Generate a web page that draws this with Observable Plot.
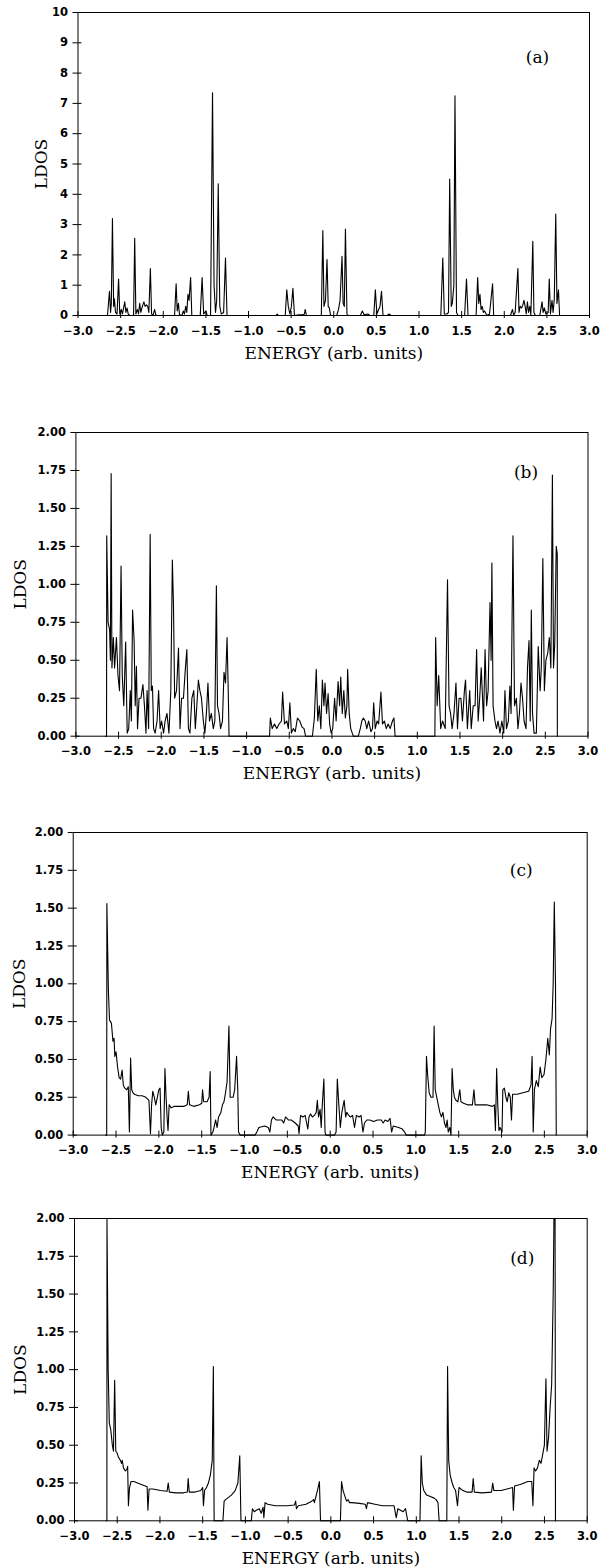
<!DOCTYPE html>
<html>
<head>
<meta charset="utf-8">
<script src="https://cdn.jsdelivr.net/npm/d3@7"></script>
<script src="https://cdn.jsdelivr.net/npm/@observablehq/plot@0.6"></script>
<style>
  body { margin: 0; background: #fff; }
  #wrap { position: relative; width: 600px; height: 1568px; overflow: hidden; }
  .panel { position: absolute; left: 0; }
  g[aria-label="x-axis tick label"] text, g[aria-label="y-axis tick label"] text {
    font-family: "DejaVu Sans", sans-serif; font-weight: bold; font-size: 11.5px;
  }
  g[aria-label="x-axis label"] text, g[aria-label="y-axis label"] text {
    font-family: "DejaVu Serif", serif; font-size: 17px;
  }
</style>
</head>
<body>
<div id="wrap"></div>
<script>
// ---------- data ----------
const xTicks = [-3, -2.5, -2, -1.5, -1, -0.5, 0, 0.5, 1, 1.5, 2, 2.5, 3];
const yTicksA = [0, 1, 2, 3, 4, 5, 6, 7, 8, 9, 10];
const yTicksBCD = [0, 0.25, 0.5, 0.75, 1, 1.25, 1.5, 1.75, 2];
const panelLabels = ["(a)", "(b)", "(c)", "(d)"];
const xLabel = "ENERGY (arb. units)";
const yLabel = "LDOS";

// [energy, LDOS]
const spectrumA = [
[-2.654,0],[-2.631,0.8],[-2.618,0.1],[-2.609,0.4],[-2.596,3.2],[-2.582,0.3],[-2.573,0.55],[-2.560,0.1],[-2.542,0.05],[-2.524,1.2],[-2.510,0.05],[-2.492,0.2],[-2.479,0.05],[-2.465,0.25],[-2.452,0.45],[-2.438,0.1],[-2.425,0.25],[-2.411,0.05],[-2.393,0],
[-2.348,0],[-2.335,2.55],[-2.321,0.05],[-2.303,0.2],[-2.290,0.05],[-2.276,0.4],[-2.263,0.1],[-2.245,0.3],[-2.227,0.45],[-2.213,0.3],[-2.196,0.35],[-2.182,0.3],[-2.169,0.1],[-2.151,1.55],[-2.137,0.05],[-2.119,0.02],[-2.101,0.2],[-2.088,0.02],[-2.070,0],
[-1.867,0],[-1.849,1.05],[-1.836,0.15],[-1.822,0.4],[-1.809,0.02],[-1.782,0],[-1.764,0.15],[-1.751,0.05],[-1.737,0.3],[-1.724,0.1],[-1.710,0.7],[-1.697,0.5],[-1.679,1.25],[-1.665,0],
[-1.566,0],[-1.544,1.25],[-1.526,0.05],[-1.499,0.15],[-1.485,0],[-1.445,0],[-1.422,7.35],[-1.404,1.0],[-1.387,0.1],[-1.373,0.5],[-1.355,4.35],[-1.337,0.3],[-1.319,0.05],[-1.292,0.1],[-1.270,1.9],[-1.252,0],
[-0.676,0],[-0.663,0.05],[-0.649,0],[-0.569,0],[-0.551,0.85],[-0.533,0.3],[-0.515,0.05],[-0.497,0.3],[-0.479,0.9],[-0.461,0],[-0.407,0.02],[-0.362,0.02],[-0.344,0.05],[-0.335,0.2],[-0.321,0],
[-0.146,0],[-0.128,2.8],[-0.115,0.3],[-0.097,0.5],[-0.079,1.85],[-0.065,0.3],[-0.052,0.25],[-0.038,0.02],[-0.020,0],
[0.034,0],[0.056,0.2],[0.074,0.5],[0.097,1.95],[0.110,0.4],[0.124,0.3],[0.137,2.85],[0.155,0.05],[0.169,0],
[0.312,0],[0.335,0.15],[0.357,0.02],[0.402,0.05],[0.425,0],[0.470,0],[0.488,0.85],[0.506,0.05],[0.519,0.15],[0.542,0.3],[0.560,0.8],[0.578,0],[0.627,0],[0.649,0.05],[0.672,0],
[1.256,0],[1.279,1.9],[1.297,0.05],[1.328,0.05],[1.346,0.1],[1.360,4.5],[1.378,0.3],[1.391,0.4],[1.409,1.0],[1.422,7.25],[1.440,0.1],[1.458,0],
[1.535,0],[1.557,1.2],[1.575,0],[1.670,0],[1.688,1.25],[1.701,0.4],[1.715,0.7],[1.728,0.2],[1.742,0.3],[1.755,0.1],[1.769,0.15],[1.787,0.05],[1.804,0],[1.827,0.05],[1.840,0.4],[1.863,1.05],[1.876,0],
[2.073,0],[2.096,0.2],[2.110,0.02],[2.128,0.1],[2.160,1.55],[2.173,0.1],[2.187,0.3],[2.204,0.25],[2.218,0.35],[2.231,0.5],[2.245,0.3],[2.258,0.05],[2.272,0.45],[2.285,0.1],[2.299,0.3],[2.312,0.02],[2.335,2.45],[2.348,0.1],[2.366,0],
[2.416,0],[2.429,0.2],[2.443,0.45],[2.456,0.1],[2.470,0.25],[2.488,0.05],[2.515,0.1],[2.528,1.2],[2.542,0.05],[2.560,0.5],[2.573,0.1],[2.587,0.55],[2.604,3.35],[2.618,0.4],[2.636,0.85],[2.649,0]
];

const spectrumB = [
[-2.655,0],[-2.641,0],[-2.639,1.32],[-2.623,0.75],[-2.605,0.7],[-2.596,0.5],[-2.587,1.73],[-2.578,0.45],[-2.561,0.65],[-2.547,0.45],[-2.525,0.65],[-2.507,0.4],[-2.489,0.3],[-2.471,1.12],[-2.457,0.4],[-2.439,0.2],[-2.417,0.62],[-2.399,0.02],[-2.381,0.05],[-2.363,0.3],[-2.350,0.1],[-2.336,0.83],[-2.318,0.63],[-2.305,0.2],[-2.291,0.46],[-2.278,0.05],[-2.260,0.25],[-2.238,0.25],[-2.215,0.34],[-2.197,0.2],[-2.179,0.02],[-2.166,0.3],[-2.148,0.05],[-2.130,1.33],[-2.117,0.3],[-2.103,0.33],[-2.090,0.05],[-2.072,0.02],[-2.049,0.1],[-2.031,0.3],[-2.013,0.05],[-1.996,0.1],[-1.973,0.02],[-1.955,0.1],[-1.933,0.15],[-1.910,0.02],[-1.888,0.3],[-1.870,1.16],[-1.857,0.87],[-1.843,0.25],[-1.821,0.3],[-1.798,0.58],[-1.780,0.05],[-1.762,0.25],[-1.740,0.25],[-1.717,0.45],[-1.700,0.57],[-1.682,0.05],[-1.664,0.02],[-1.641,0.25],[-1.619,0.3],[-1.601,0.05],[-1.583,0.2],[-1.565,0.37],[-1.547,0.3],[-1.529,0.25],[-1.507,0.1],[-1.489,0.02],[-1.471,0.15],[-1.453,0.35],[-1.435,0.1],[-1.413,0.15],[-1.390,0.05],[-1.372,0.1],[-1.354,0.99],[-1.341,0.2],[-1.323,0.15],[-1.305,0.05],[-1.283,0.1],[-1.265,0.42],[-1.247,0.35],[-1.229,0.65],[-1.215,0.3],[-1.206,0],
[-0.731,0],[-0.722,0.12],[-0.700,0.05],[-0.673,0.08],[-0.646,0.05],[-0.619,0.08],[-0.592,0.1],[-0.578,0.29],[-0.556,0.08],[-0.529,0.1],[-0.511,0.05],[-0.493,0.22],[-0.475,0.02],[-0.453,0.05],[-0.430,0.03],[-0.404,0.12],[-0.377,0.1],[-0.350,0.06],[-0.327,0.05],[-0.309,0],
[-0.229,0],[-0.206,0.12],[-0.184,0.44],[-0.166,0.1],[-0.148,0.2],[-0.130,0.05],[-0.112,0.37],[-0.094,0.2],[-0.081,0.35],[-0.063,0.15],[-0.045,0.28],[-0.027,0.08],[-0.009,0.02],[0.009,0.05],[0.031,0.25],[0.049,0.1],[0.072,0.36],[0.090,0.2],[0.103,0.39],[0.121,0.15],[0.139,0.3],[0.157,0.12],[0.175,0.2],[0.184,0.44],[0.202,0.15],[0.220,0.05],[0.238,0.02],[0.251,0],
[0.309,0],[0.332,0.05],[0.350,0.1],[0.368,0.12],[0.390,0.1],[0.408,0.05],[0.430,0.1],[0.457,0.03],[0.475,0.05],[0.489,0.22],[0.507,0.05],[0.529,0.1],[0.547,0.08],[0.574,0.29],[0.592,0.08],[0.614,0.1],[0.637,0.05],[0.659,0.08],[0.682,0.05],[0.709,0.1],[0.726,0.12],[0.740,0],
[1.206,0],[1.215,0.65],[1.233,0.2],[1.251,0.4],[1.274,0.05],[1.296,0.1],[1.327,0.05],[1.354,1.03],[1.372,0.2],[1.390,0.15],[1.408,0.05],[1.430,0.15],[1.453,0.35],[1.471,0.05],[1.489,0.25],[1.511,0.25],[1.529,0.1],[1.552,0.3],[1.565,0.37],[1.587,0.05],[1.614,0.3],[1.632,0.05],[1.655,0.2],[1.677,0.2],[1.695,0.57],[1.713,0.1],[1.731,0.25],[1.749,0.45],[1.776,0.1],[1.794,0.57],[1.812,0.2],[1.830,0.3],[1.852,0.88],[1.865,0.5],[1.874,1.14],[1.888,0.2],[1.910,0.1],[1.928,0.05],[1.946,0.1],[1.969,0.02],[1.991,0.1],[2.013,0.02],[2.027,0.3],[2.045,0.05],[2.067,0.1],[2.085,0.33],[2.099,0.15],[2.121,1.32],[2.139,0.2],[2.161,0.25],[2.179,0.05],[2.197,0.15],[2.215,0.35],[2.233,0.25],[2.251,0.1],[2.274,0.05],[2.291,0.45],[2.309,0.63],[2.323,0.1],[2.336,0.83],[2.350,0.15],[2.368,0.02],[2.395,0.02],[2.417,0.59],[2.439,0.3],[2.453,0.45],[2.471,1.17],[2.489,0.3],[2.507,0.5],[2.529,0.55],[2.547,0.65],[2.565,0.45],[2.583,1.72],[2.596,0.45],[2.610,0.6],[2.628,1.25],[2.640,1.2],[2.641,0]
];

const spectrumC = [
[-2.621,0],[-2.609,0],[-2.607,1.53],[-2.589,0.95],[-2.576,0.76],[-2.554,0.74],[-2.536,0.62],[-2.523,0.64],[-2.514,0.52],[-2.500,0.55],[-2.482,0.45],[-2.464,0.38],[-2.447,0.37],[-2.429,0.43],[-2.415,0.33],[-2.397,0.31],[-2.375,0.3],[-2.357,0.32],[-2.344,0.02],[-2.330,0.51],[-2.317,0.3],[-2.303,0.28],[-2.286,0.27],[-2.241,0.26],[-2.196,0.26],[-2.151,0.25],[-2.116,0.23],[-2.098,0.01],[-2.085,0.2],[-2.071,0.29],[-2.053,0.25],[-2.036,0.2],[-2.018,0.25],[-2.000,0.3],[-1.986,0.31],[-1.973,0.05],[-1.960,0],[-1.942,0.02],[-1.929,0.44],[-1.916,0.25],[-1.902,0.1],[-1.893,0.03],[-1.880,0.2],[-1.857,0.18],[-1.817,0.19],[-1.772,0.19],[-1.705,0.19],[-1.669,0.2],[-1.656,0.29],[-1.642,0.2],[-1.593,0.19],[-1.526,0.2],[-1.499,0.21],[-1.490,0.3],[-1.477,0.22],[-1.437,0.22],[-1.414,0.25],[-1.401,0.42],[-1.392,0],[-1.370,0.02],[-1.356,0.05],[-1.338,0.1],[-1.320,0.05],[-1.303,0.12],[-1.276,0.15],[-1.258,0.2],[-1.240,0.22],[-1.222,0.28],[-1.204,0.35],[-1.182,0.72],[-1.168,0.25],[-1.151,0.25],[-1.133,0.25],[-1.115,0.3],[-1.093,0.52],[-1.079,0.3],[-1.070,0.02],[-1.052,0],
[-0.878,0],[-0.856,0.02],[-0.833,0.05],[-0.766,0.06],[-0.722,0.05],[-0.704,0.02],[-0.686,0.1],[-0.668,0.12],[-0.632,0.1],[-0.565,0.1],[-0.543,0.08],[-0.521,0.12],[-0.489,0.1],[-0.454,0.1],[-0.409,0.08],[-0.373,0.06],[-0.364,0.01],[-0.346,0.13],[-0.320,0.12],[-0.293,0.13],[-0.275,0.08],[-0.261,0.04],[-0.248,0.12],[-0.230,0.14],[-0.208,0.12],[-0.185,0.13],[-0.163,0.15],[-0.150,0.23],[-0.136,0.12],[-0.118,0.17],[-0.105,0.05],[-0.092,0.2],[-0.074,0.37],[-0.060,0.02],[-0.051,0],
[0.051,0],[0.069,0.02],[0.083,0.37],[0.101,0.2],[0.118,0.05],[0.136,0.15],[0.163,0.23],[0.181,0.12],[0.194,0.15],[0.217,0.13],[0.235,0.12],[0.261,0.13],[0.284,0.05],[0.306,0.13],[0.337,0.12],[0.360,0.13],[0.382,0.02],[0.400,0.08],[0.427,0.1],[0.462,0.1],[0.507,0.09],[0.552,0.1],[0.597,0.1],[0.619,0.08],[0.641,0.1],[0.672,0.09],[0.699,0.11],[0.717,0.02],[0.735,0.06],[0.798,0.05],[0.842,0.04],[0.869,0.02],[0.887,0],
[1.101,0],[1.110,0.02],[1.124,0.52],[1.137,0.4],[1.155,0.28],[1.177,0.25],[1.200,0.25],[1.213,0.72],[1.226,0.3],[1.244,0.25],[1.262,0.2],[1.280,0.15],[1.298,0.12],[1.316,0.15],[1.334,0.08],[1.352,0.05],[1.365,0.1],[1.378,0.02],[1.396,0.05],[1.410,0],[1.423,0.44],[1.437,0.3],[1.450,0.25],[1.468,0.23],[1.490,0.22],[1.513,0.3],[1.526,0.22],[1.557,0.21],[1.602,0.2],[1.660,0.2],[1.678,0.3],[1.692,0.2],[1.759,0.2],[1.826,0.2],[1.893,0.19],[1.916,0.2],[1.929,0.03],[1.943,0.44],[1.956,0.2],[1.970,0.03],[1.983,0.05],[2.006,0.02],[2.015,0.3],[2.033,0.31],[2.051,0.25],[2.066,0.22],[2.084,0.28],[2.102,0.25],[2.116,0.1],[2.129,0.27],[2.183,0.27],[2.250,0.28],[2.317,0.29],[2.344,0.33],[2.357,0.52],[2.370,0.02],[2.384,0.3],[2.406,0.36],[2.429,0.32],[2.451,0.45],[2.469,0.38],[2.496,0.4],[2.518,0.5],[2.540,0.64],[2.558,0.53],[2.572,0.7],[2.590,0.77],[2.603,1.0],[2.616,1.54],[2.630,1.0],[2.639,0]
];

const spectrumD = [
[-2.629,0],[-2.621,0],[-2.620,2.0],[-2.606,1.0],[-2.593,0.65],[-2.575,0.6],[-2.557,0.5],[-2.544,0.46],[-2.530,0.93],[-2.517,0.46],[-2.503,0.45],[-2.485,0.42],[-2.463,0.4],[-2.450,0.38],[-2.441,0.4],[-2.427,0.35],[-2.405,0.33],[-2.387,0.34],[-2.378,0.36],[-2.369,0.1],[-2.356,0.22],[-2.338,0.26],[-2.306,0.26],[-2.262,0.25],[-2.217,0.24],[-2.172,0.23],[-2.150,0.225],[-2.141,0.07],[-2.127,0.21],[-2.083,0.21],[-1.993,0.2],[-1.917,0.195],[-1.903,0.25],[-1.890,0.19],[-1.814,0.185],[-1.724,0.185],[-1.679,0.19],[-1.670,0.28],[-1.657,0.19],[-1.590,0.19],[-1.523,0.2],[-1.500,0.22],[-1.491,0.1],[-1.478,0.2],[-1.455,0.22],[-1.433,0.25],[-1.411,0.3],[-1.388,0.4],[-1.375,1.02],[-1.366,0],
[-1.263,0],[-1.249,0.13],[-1.232,0.14],[-1.209,0.15],[-1.164,0.17],[-1.120,0.2],[-1.088,0.25],[-1.066,0.43],[-1.052,0],
[-0.931,0],[-0.918,0.08],[-0.896,0.06],[-0.873,0.07],[-0.837,0.08],[-0.815,0.05],[-0.793,0.09],[-0.784,0.02],[-0.770,0.12],[-0.739,0.11],[-0.649,0.1],[-0.515,0.1],[-0.425,0.105],[-0.412,0.13],[-0.403,0.08],[-0.381,0.1],[-0.291,0.11],[-0.224,0.13],[-0.202,0.14],[-0.193,0.12],[-0.175,0.16],[-0.157,0.2],[-0.134,0.26],[-0.121,0],
[0.112,0],[0.125,0.26],[0.143,0.2],[0.166,0.16],[0.184,0.13],[0.202,0.14],[0.219,0.12],[0.246,0.12],[0.336,0.115],[0.403,0.11],[0.416,0.08],[0.430,0.12],[0.515,0.11],[0.605,0.1],[0.739,0.1],[0.766,0.02],[0.784,0.08],[0.815,0.07],[0.846,0.06],[0.873,0.08],[0.900,0],
[1.043,0],[1.057,0.43],[1.070,0.25],[1.088,0.2],[1.120,0.17],[1.164,0.16],[1.209,0.15],[1.232,0.14],[1.254,0.12],[1.267,0],
[1.357,0],[1.366,1.02],[1.379,0.4],[1.397,0.3],[1.420,0.25],[1.438,0.22],[1.460,0.2],[1.482,0.1],[1.500,0.22],[1.545,0.2],[1.590,0.19],[1.653,0.19],[1.666,0.28],[1.679,0.19],[1.769,0.185],[1.881,0.19],[1.894,0.25],[1.908,0.2],[1.993,0.2],[2.060,0.21],[2.127,0.22],[2.136,0.07],[2.150,0.23],[2.217,0.24],[2.306,0.26],[2.351,0.26],[2.365,0.1],[2.378,0.35],[2.396,0.33],[2.418,0.35],[2.440,0.4],[2.459,0.38],[2.476,0.43],[2.499,0.5],[2.517,0.94],[2.530,0.46],[2.548,0.55],[2.566,0.75],[2.584,0.9],[2.602,1.5],[2.611,2.0],[2.624,2.0],[2.629,0]
];

// ---------- layout (pixel geometry of each panel) ----------
const panels = [
  {data: spectrumA, yTicks: yTicksA,   fmt: "d",   top: 12.3,   left: 77.5, right: 589,   h: 303,   yOff: 43, ldx: -52, ldy: 45},
  {data: spectrumB, yTicks: yTicksBCD, fmt: ".2f", top: 432.3,  left: 75.4, right: 587.5, h: 303.7, yOff: 62, ldx: -62, ldy: 40},
  {data: spectrumC, yTicks: yTicksBCD, fmt: ".2f", top: 831.7,  left: 72.7, right: 586.7, h: 302.6, yOff: 60, ldx: -66, ldy: 38},
  {data: spectrumD, yTicks: yTicksBCD, fmt: ".2f", top: 1217.7, left: 74,   right: 586.7, h: 302.3, yOff: 61, ldx: -65, ldy: 40}
];

const wrap = document.getElementById("wrap");
const MT = 12, MB = 52;
panels.forEach((P, i) => {
  const chart = Plot.plot({
    width: 600,
    height: MT + P.h + MB,
    marginTop: MT,
    marginBottom: MB,
    marginLeft: P.left,
    marginRight: 600 - P.right,
    style: {background: "transparent", color: "black", fontSize: "11px", overflow: "visible"},
    x: {domain: [xTicks[0], xTicks[xTicks.length - 1]]},
    y: {domain: [P.yTicks[0], P.yTicks[P.yTicks.length - 1]]},
    marks: [
      Plot.line(P.data, {x: d => d[0], y: d => d[1], stroke: "black", strokeWidth: 1.1}),
      Plot.frame({stroke: "black", strokeWidth: 1}),
      Plot.axisX(xTicks, {tickSize: 3, tickPadding: 8, tickFormat: ".1f",
        label: xLabel, labelAnchor: "center", labelOffset: 43, labelArrow: "none"}),
      Plot.axisX(xTicks, {tickSize: -4, fill: "none", label: null}),
      Plot.axisY(P.yTicks, {tickSize: 5, tickPadding: 5, tickFormat: P.fmt,
        label: yLabel, labelAnchor: "center", labelOffset: P.yOff, labelArrow: "none"}),
      Plot.axisY(P.yTicks, {tickSize: -4, fill: "none", label: null}),
      Plot.text([panelLabels[i]], {text: d => d, frameAnchor: "top-right", dx: P.ldx, dy: P.ldy,
        textAnchor: "middle", lineAnchor: "middle", fontFamily: "DejaVu Serif", fontSize: 17, fill: "black"})
    ]
  });
  const div = document.createElement("div");
  div.className = "panel";
  div.style.top = (P.top - MT) + "px";
  div.append(chart);
  wrap.append(div);
});
</script>
</body>
</html>
